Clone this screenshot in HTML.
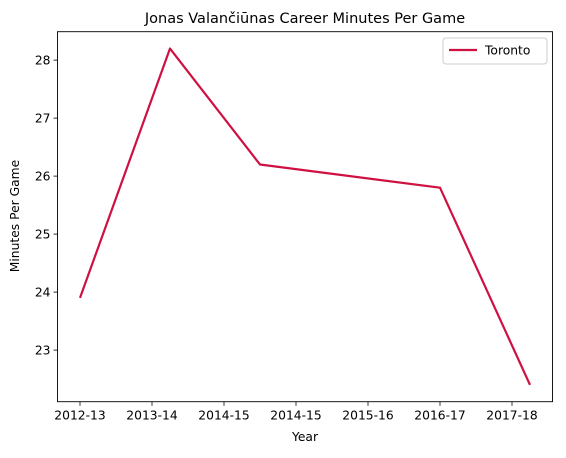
<!DOCTYPE html>
<html><head><meta charset="utf-8"><style>
body{margin:0;background:#fff;font-family:"DejaVu Sans","Liberation Sans",sans-serif}
svg text{font-family:"DejaVu Sans","Liberation Sans",sans-serif;fill:#000}
</style></head><body>
<svg id="chart" width="566" height="454" xmlns="http://www.w3.org/2000/svg"></svg>
<script>
const tickLabels=["2012-13","2013-14","2014-15","2014-15","2015-16","2016-17","2017-18"];
const xValues=[0,1.25,2.5,5,6.25];
const minutes=[23.9,28.2,26.2,25.8,22.4];
const yTicks=[23,24,25,26,27,28];
const svg=document.getElementById('chart');
const NS='http://www.w3.org/2000/svg';
const L=57.5,R=552.5,T=31.7,B=401.7;
const xMin=-0.3125,xMax=6.5625,yMin=22.11,yMax=28.49;
const sx=v=>L+(v-xMin)/(xMax-xMin)*(R-L);
const sy=v=>B-(v-yMin)/(yMax-yMin)*(B-T);
function mk(tag,attrs,txt){const e=document.createElementNS(NS,tag);for(const k in attrs)e.setAttribute(k,attrs[k]);if(txt!==undefined)e.textContent=txt;svg.appendChild(e);return e;}
let e;
e=mk('text',{x:305,y:23,'text-anchor':'middle','font-size':'14.5'},'Jonas Valančiūnas Career Minutes Per Game');


tickLabels.forEach((t,i)=>{
  e=mk('line',{x1:sx(i),x2:sx(i),y1:B,y2:B+4,stroke:'#000','stroke-width':0.8});
  
  
  e=mk('text',{x:sx(i),y:B+18,'text-anchor':'middle','font-size':'12.3'},t);
  
  
});
yTicks.forEach(v=>{
  e=mk('line',{x1:L-4,x2:L,y1:sy(v),y2:sy(v),stroke:'#000','stroke-width':0.8});
  
  
  e=mk('text',{x:L-7,y:sy(v)+4.5,'text-anchor':'end','font-size':'12.3'},String(v));
  
  
});
e=mk('text',{x:305,y:441,'text-anchor':'middle','font-size':'12.3'},'Year');


e=mk('text',{x:19,y:216,'text-anchor':'middle','font-size':'12.3',transform:'rotate(-90 19 216)'},'Minutes Per Game');


const pts=xValues.map((x,i)=>sx(x)+','+sy(minutes[i])).join(' ');
e=mk('polyline',{points:pts,fill:'none',stroke:'#ce1141','stroke-width':2.2,'stroke-linejoin':'round'});


e=mk('rect',{x:L,y:T,width:R-L,height:B-T,fill:'none',stroke:'#000','stroke-width':0.9});


e=mk('rect',{x:443,y:38,width:104,height:26,rx:3,fill:'#fff',stroke:'#ccc','stroke-width':1});


e=mk('line',{x1:449,x2:477,y1:50,y2:50,stroke:'#ce1141','stroke-width':2.2});


e=mk('text',{x:485,y:54.5,'font-size':'12.3'},'Toronto');


</script>
</body></html>
